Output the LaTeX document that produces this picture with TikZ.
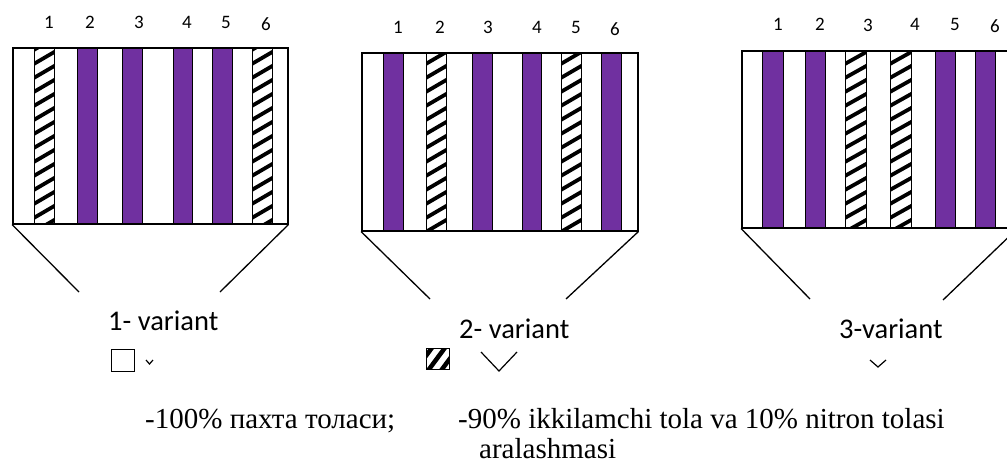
\documentclass[tikz,border=0pt]{standalone}
\usepackage{fontspec}
\setmainfont{Liberation Serif}
\newfontfamily\calib{Carlito}
\definecolor{barpurple}{RGB}{112,48,160}
\tikzset{
  frame/.style={draw=black, line width=1.5pt, rectangle, inner sep=0pt, fill=none},
  barline/.style={draw=black, line width=1pt},
  hatchline/.style={line width=3.8pt, black},
  edge/.style={draw=black, line width=1.3pt},
  digit/.style={font=\calib\fontsize{19}{19}\selectfont, anchor=base, inner sep=0pt},
  caption/.style={font=\calib\fontsize{28.5}{28.5}\selectfont, anchor=base west, inner sep=0pt},
  legend/.style={font=\fontsize{29}{30}\selectfont, anchor=base west, inner sep=0pt},
  chev/.style={draw=black, line width=1.2pt},
}
% solid purple bar: left, top, right, bottom
\newcommand\purplebar[4]{%
  \fill[barpurple] (#1,#2) rectangle (#3,#4);
  \draw[barline] (#1,#2) rectangle (#3,#4);}
% white bar with diagonal black hatching
\newcommand\hatchbar[4]{%
  \begin{scope}
    \clip (#1,#2) rectangle (#3,#4);
    \foreach \yy in {30,44,...,260}
      \draw[hatchline] ({#1-2},{\yy+7}) -- ({#3+2},{\yy-7});
  \end{scope}
  \draw[barline] (#1,#2) rectangle (#3,#4);}
\begin{document}
\begin{tikzpicture}[x=1pt,y=-1pt]
\useasboundingbox (0,0) rectangle (1007,466);
\clip (0,0) rectangle (1007,466);

% ---- panel 1 ----
\hatchbar{34}{47}{54}{223}
\purplebar{77}{47}{97}{223}
\purplebar{122}{47}{142}{223}
\purplebar{173}{47}{192}{223}
\purplebar{212}{47}{232}{223}
\hatchbar{252}{47}{272}{223}
\node[frame, anchor=north west, minimum width=275pt, minimum height=176pt] (box1) at (12,47) {};
\foreach \t/\x/\y in {1/49/28, 2/90/28, 3/139/28, 4/187/28, 5/226/28, 6/266/30}
  \node[digit] (d1-\t) at (\x,\y) {\t};
\coordinate (e1l) at (79,292);
\coordinate (e1r) at (220,292);
\draw[edge] (box1.south west) -- (e1l);
\draw[edge] (box1.south east) -- (e1r);

% ---- panel 2 ----
\purplebar{383}{52}{403}{230}
\hatchbar{426}{52}{446}{230}
\purplebar{472}{52}{492}{230}
\purplebar{522}{52}{541}{230}
\hatchbar{561}{52}{581}{230}
\purplebar{601}{52}{621}{230}
\node[frame, anchor=north west, minimum width=276pt, minimum height=178pt] (box2) at (361,52) {};
\foreach \t/\x/\y in {1/398/33, 2/440/33, 3/488/33, 4/537/33, 5/576/33, 6/615/35}
  \node[digit] (d2-\t) at (\x,\y) {\t};
\coordinate (e2l) at (430,299);
\coordinate (e2r) at (566,299);
\draw[edge] (box2.south west) -- (e2l);
\draw[edge] (box2.south east) -- (e2r);

% ---- panel 3 ----
\purplebar{762}{50}{783}{227}
\purplebar{805}{50}{825}{227}
\hatchbar{845}{50}{866}{227}
\hatchbar{890}{50}{911}{227}
\purplebar{935}{50}{955}{227}
\purplebar{975}{50}{995}{227}
\node[frame, anchor=north west, minimum width=275pt, minimum height=177pt] (box3) at (741,50) {};
\foreach \t/\x/\y in {1/778/30, 2/820/30, 3/868/31, 4/915/30, 5/955/30, 6/995/32}
  \node[digit] (d3-\t) at (\x,\y) {\t};
\coordinate (e3l) at (810,299);
\coordinate (e3r) at (943,300);
\draw[edge] (box3.south west) -- (e3l);
\draw[edge] (box3.south east) -- (e3r);

% ---- captions ----
\node[caption] (v1) at (108,330) {1- variant};
\node[caption] (v2) at (459,338) {2- variant};
\node[caption] (v3) at (839,338) {3-variant};

% legend swatches and check marks
\node[draw=black, line width=1.3pt, minimum width=23pt, minimum height=22pt, inner sep=0pt, anchor=north west] (sq1) at (111,349) {};
\draw[chev] (146,360) -- (149.5,364) -- (153,360);

\begin{scope}
  \clip (426,348) rectangle (449,369);
  \foreach \s in {-10,3,16}
    \draw[line width=4.5pt, black] ({424+\s},372) -- ({444+\s},345);
\end{scope}
\node[draw=black, line width=1.3pt, minimum width=23pt, minimum height=21pt, inner sep=0pt, anchor=north west] (sq2) at (426,348) {};
\draw[chev] (481,352) -- (499,371) -- (517,352);

\draw[chev] (870,360) -- (878,367) -- (886,360);

% ---- legend text ----
\node[legend] (t1) at (145,428) {-100\% пахта толаси;};
\node[legend] (t2) at (458,428) {-90\% ikkilamchi tola va 10\% nitron tolasi};
\node[legend] (t3) at (479,458) {aralashmasi};
\end{tikzpicture}
\end{document}
